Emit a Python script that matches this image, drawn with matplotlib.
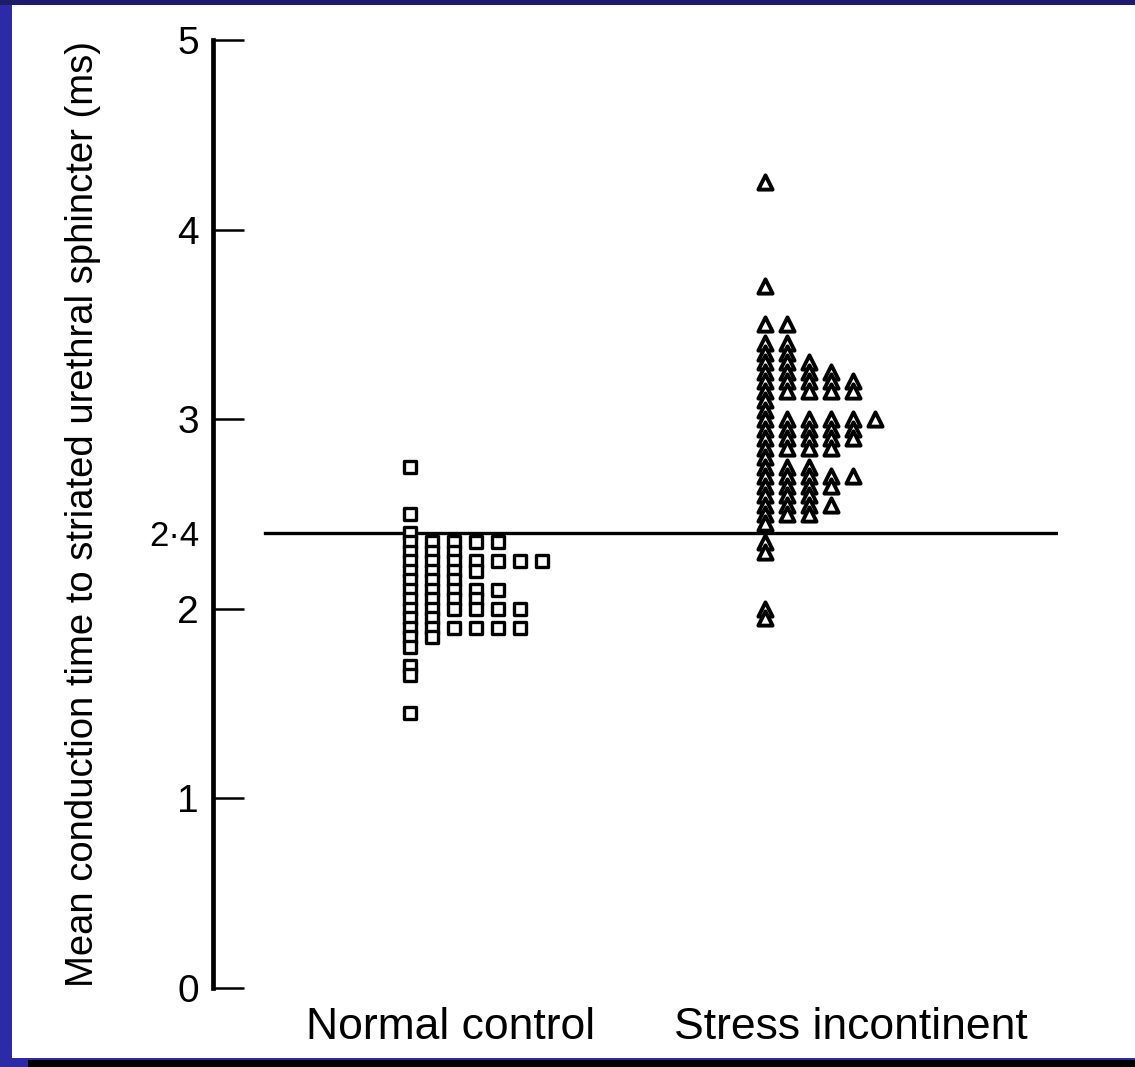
import matplotlib.pyplot as plt
import numpy as np
from matplotlib.patches import Rectangle

# dane (ms) i liczba punktow w kazdym rzedzie
normal_values = [2.75, 2.5, 2.4, 2.35, 2.3, 2.25, 2.2, 2.15, 2.1, 2.05, 2.0, 1.95, 1.9, 1.85, 1.8, 1.7, 1.65, 1.45]
normal_counts = [1, 1, 1, 5, 3, 7, 4, 3, 5, 4, 6, 2, 6, 2, 1, 1, 1, 1]

stress_values = [4.25, 3.7, 3.5, 3.4, 3.35, 3.3, 3.25, 3.2, 3.15, 3.1, 3.05, 3.0, 2.95, 2.9, 2.85,
                 2.8, 2.75, 2.7, 2.65, 2.6, 2.55, 2.5, 2.45, 2.35, 2.3, 2.0, 1.95]
stress_counts = [1, 1, 2, 2, 2, 3, 4, 5, 5, 1, 1, 6, 5, 5, 4,
                 1, 3, 5, 4, 3, 4, 3, 1, 1, 1, 1, 1]

groups = ['Normal control', 'Stress incontinent']
cutoff = 2.4
y_ticks = [0, 1, 2, 2.4, 3, 4, 5]
y_ticklabels = ['0', '1', '2', '2·4', '3', '4', '5']

plt.rcParams['font.family'] = ['Liberation Sans', 'DejaVu Sans']

fig = plt.figure(figsize=(11.35, 10.67), dpi=100, facecolor='#2c2aa8')
# ramka slajdu (pod osiami)
fig.patches.append(Rectangle((0, 1 - 5 / 1067), 1, 5 / 1067, transform=fig.transFigure,
                             facecolor='#1c1c6a', edgecolor='none', zorder=-5))
fig.patches.append(Rectangle((12 / 1135, 9 / 1067), 1, 1 - 14 / 1067, transform=fig.transFigure,
                             facecolor='white', edgecolor='none', zorder=-5))
fig.patches.append(Rectangle((28 / 1135, 0), 1, 7 / 1067, transform=fig.transFigure,
                             facecolor='black', edgecolor='none', zorder=-5))

ax = fig.add_axes([213 / 1135, 79 / 1067, 845 / 1135, 948 / 1067])
ax.set_facecolor('none')

step = 0.062


def spread(values, counts, base):
    ys = np.repeat(values, counts)
    xs = np.concatenate([base + step * np.arange(c) for c in counts])
    return xs, ys


xn, yn = spread(normal_values, normal_counts, 0)
xs, ys = spread(stress_values, stress_counts, 1)

ax.scatter(xn, yn, marker='s', s=68, facecolor='white', edgecolor='black', linewidth=2.4, zorder=3)
ax.scatter(xs, ys, marker='^', s=105, facecolor='white', edgecolor='black', linewidth=2.8, zorder=3)

ax.axhline(cutoff, xmin=52 / 845, xmax=1, color='black', linewidth=2.4, zorder=2)

ax.set_xlim(-0.555, 1.825)
ax.set_ylim(0, 5)

for s in ['top', 'right', 'bottom']:
    ax.spines[s].set_visible(False)
ax.spines['left'].set_linewidth(3.4)

ax.set_yticks(y_ticks)
ax.set_yticklabels(y_ticklabels, fontsize=28)
ax.tick_params(axis='y', direction='in', length=22, width=1.8, pad=10)
ax.yaxis.get_major_ticks()[3].tick1line.set_visible(False)
ax.yaxis.get_major_ticks()[3].label1.set_fontsize(25)

ax.set_xticks([0.115, 1.242])
ax.set_xticklabels(groups, fontsize=32)
ax.tick_params(axis='x', length=0, pad=14)

ax.set_ylabel('Mean conduction time to striated urethral sphincter (ms)', fontsize=27.5)
ax.yaxis.set_label_coords(-0.132, 0.5)

fig.savefig('out.png', dpi=100, facecolor=fig.get_facecolor())
